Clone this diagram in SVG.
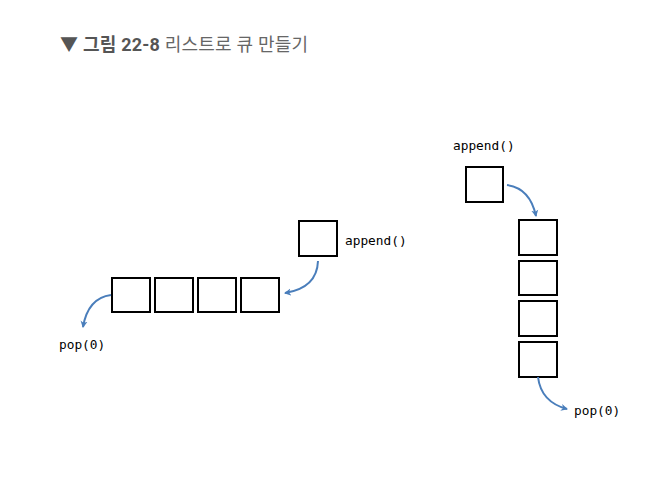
<svg xmlns="http://www.w3.org/2000/svg" width="671" height="487" viewBox="0 0 671 487">
<defs>
<marker id="ah" markerWidth="8" markerHeight="8" refX="6" refY="4" orient="auto" markerUnits="userSpaceOnUse">
<path d="M0,0.5 L7,4 L0,7.5 L2,4 Z" fill="#4a7ebb"/>
</marker>
</defs>
<style>
.box{fill:#fff;stroke:#000;stroke-width:2}
.lbl{font-family:"DejaVu Sans Mono","Liberation Mono",monospace;font-size:12.8px;fill:#000}
.conn{fill:none;stroke:#4a7ebb;stroke-width:2;marker-end:url(#ah)}
.tb{font-family:Roboto,"Noto Sans CJK KR",sans-serif;font-size:18px;font-weight:bold;fill:#555}
.tr{font-family:Roboto,"Noto Sans CJK KR",sans-serif;font-size:18px;fill:#666}
</style>
<rect width="671" height="487" fill="#fff"/>
<g id="title">
<text x="60" y="51" textLength="248" lengthAdjust="spacing"><tspan class="tb">▼ 그림 22-8</tspan><tspan class="tr"> 리스트로 큐 만들기</tspan></text>
</g>
<g id="left-queue">
<rect class="box" x="112" y="278" width="38" height="34"/>
<rect class="box" x="155" y="278" width="38" height="34"/>
<rect class="box" x="198" y="278" width="38" height="34"/>
<rect class="box" x="241" y="278" width="38" height="34"/>
</g>
<g id="left-new">
<rect class="box" x="299" y="221" width="38" height="35"/>
</g>
<g id="left-append-label"><text class="lbl" x="345" y="245">append()</text></g>
<g id="left-pop-label"><text class="lbl" x="59" y="349">pop(0)</text></g>
<g id="right-new">
<rect class="box" x="466" y="167" width="37" height="35"/>
</g>
<g id="right-append-label"><text class="lbl" x="453" y="150">append()</text></g>
<g id="right-stack">
<rect class="box" x="519" y="220" width="38" height="35"/>
<rect class="box" x="519" y="261" width="38" height="34"/>
<rect class="box" x="519" y="301" width="38" height="35"/>
<rect class="box" x="519" y="342" width="38" height="35"/>
</g>
<g id="right-pop-label"><text class="lbl" x="574" y="415">pop(0)</text></g>
<g id="connectors">
<path class="conn" d="M318,261 Q317,288 285,293"/>
<path class="conn" d="M111,295 Q88,298 83,327"/>
<path class="conn" d="M507,185 Q530,188 536,216"/>
<path class="conn" d="M538,377 Q541,402 567,409"/>
</g>
</svg>
